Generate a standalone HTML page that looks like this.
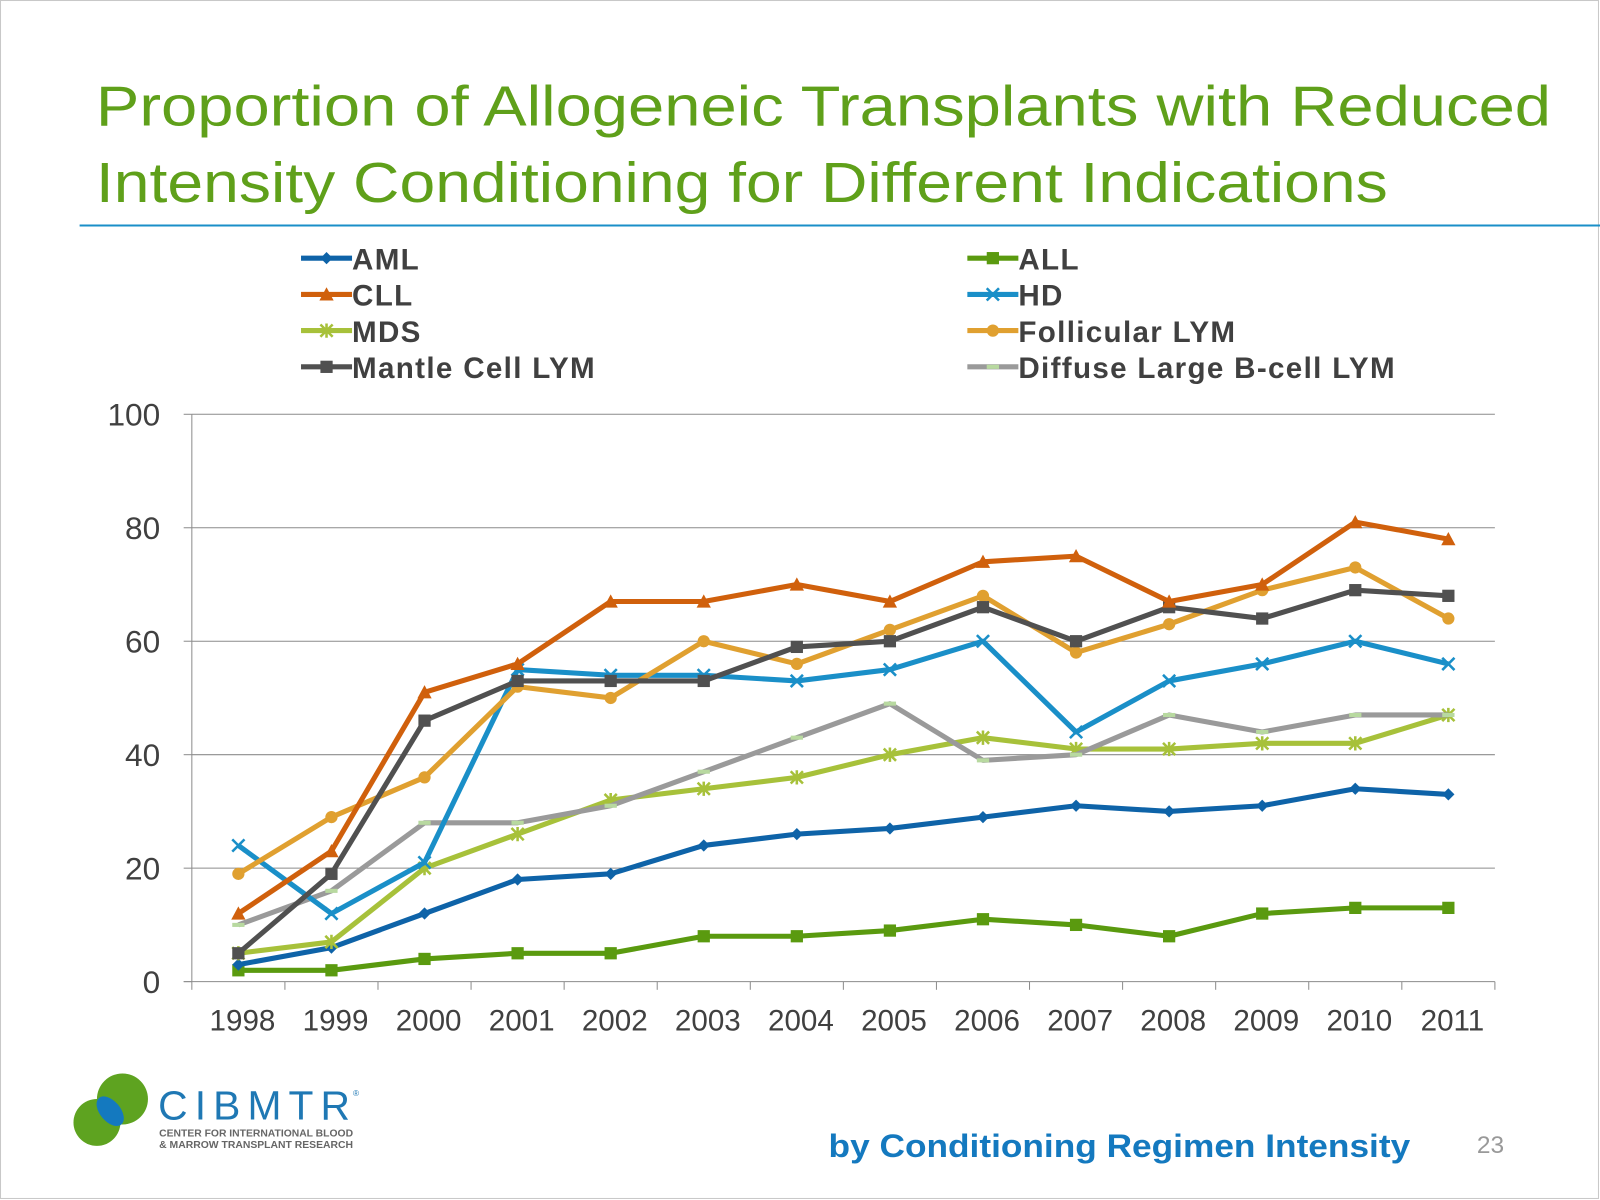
<!DOCTYPE html>
<html><head><meta charset="utf-8"><style>
html,body{margin:0;padding:0;background:#fff;}
svg{display:block;font-family:"Liberation Sans",Arial,sans-serif;}
</style></head><body>
<svg id="chart" width="1600" height="1200" viewBox="0 0 1568 1176">
<rect x="0.5" y="0.5" width="1566" height="1174" fill="#fff" stroke="#c8c8c8"/>
<g fill="#5fa01a" font-size="55">
<text x="94" y="123" textLength="1426" lengthAdjust="spacingAndGlyphs">Proportion of  Allogeneic Transplants with Reduced</text>
<text x="94" y="198" textLength="1266" lengthAdjust="spacingAndGlyphs">Intensity Conditioning for Different Indications</text>
</g>
<line x1="78" y1="221" x2="1568" y2="221" stroke="#1a8fc8" stroke-width="2"/>
<g id="grid"></g>
<g id="axes"></g>
<g id="series"></g>
<g id="legend"></g>
<g>
<circle cx="95" cy="1100" r="23" fill="#5ea320"/>
<circle cx="120" cy="1077" r="25" fill="#5ea320"/>
<ellipse cx="108" cy="1089" rx="10" ry="17" transform="rotate(-40 108 1089)" fill="#1479bf"/>
<text x="155" y="1097" font-size="40" fill="#1f78b4" textLength="188" lengthAdjust="spacing">CIBMTR</text>
<text x="346" y="1074" font-size="8" fill="#1f78b4">®</text>
<text x="156" y="1114" font-size="10" font-weight="bold" fill="#666" textLength="190" lengthAdjust="spacingAndGlyphs">CENTER FOR INTERNATIONAL BLOOD</text>
<text x="156" y="1125" font-size="10" font-weight="bold" fill="#666" textLength="190" lengthAdjust="spacingAndGlyphs">&amp; MARROW TRANSPLANT RESEARCH</text>
</g>
<text x="812" y="1134" font-size="32" font-weight="bold" fill="#1479bf" textLength="570" lengthAdjust="spacingAndGlyphs">by Conditioning  Regimen Intensity</text>
<text x="1474" y="1130" font-size="24" fill="#999" text-anchor="end">23</text>
</svg>
<script>
const years = ["1998","1999","2000","2001","2002","2003","2004","2005","2006","2007","2008","2009","2010","2011"];
const yTicks = [0,20,40,60,80,100];
const seriesNames = ["AML","ALL","CLL","HD","MDS","Follicular LYM","Mantle Cell LYM","Diffuse Large B-cell LYM"];
const amlValues = [3,6,12,18,19,24,26,27,29,31,30,31,34,33];
const allValues = [2,2,4,5,5,8,8,9,11,10,8,12,13,13];
const cllValues = [12,23,51,56,67,67,70,67,74,75,67,70,81,78];
const hdValues = [24,12,21,55,54,54,53,55,60,44,53,56,60,56];
const mdsValues = [5,7,20,26,32,34,36,40,43,41,41,42,42,47];
const follValues = [19,29,36,52,50,60,56,62,68,58,63,69,73,64];
const mantleValues = [5,19,46,53,53,53,59,60,66,60,66,64,69,68];
const dlbclValues = [10,16,28,28,31,37,43,49,39,40,47,44,47,47];

const NS="http://www.w3.org/2000/svg";
function mk(t,a,p){const e=document.createElementNS(NS,t);for(const k in a)e.setAttribute(k,a[k]);p.appendChild(e);return e;}
const X0=188,X1=1465,Y0=962,Y1=406;
const step=(X1-X0)/years.length;
function xS(i){return X0+step*(i+0.5);}
function yS(v){return Y0-(v-0)/(100-0)*(Y0-Y1);}
const grid=document.getElementById('grid'),axes=document.getElementById('axes'),ser=document.getElementById('series'),leg=document.getElementById('legend');
yTicks.forEach(t=>{
  if(t>0){const l=mk('line',{x1:X0,x2:X1,y1:yS(t),y2:yS(t),stroke:'#8c8c8c','stroke-width':1},grid);
  
  }
  const tx=mk('text',{x:157,y:yS(t)+11,'font-size':31,fill:'#404040','text-anchor':'end'},axes);tx.textContent=t;
  
  
});
const va=mk('line',{x1:X0,x2:X0,y1:Y1,y2:Y0,stroke:'#8c8c8c'},axes);


const ha=mk('line',{x1:X0-8,x2:X1,y1:Y0,y2:Y0,stroke:'#8c8c8c'},axes);


for(let i=0;i<=years.length;i++){mk('line',{x1:X0+step*i,x2:X0+step*i,y1:Y0,y2:Y0+8,stroke:'#8c8c8c'},axes);}
yTicks.forEach(t=>{mk('line',{x1:X0-8,x2:X0,y1:yS(t),y2:yS(t),stroke:'#8c8c8c'},axes);});
years.forEach((y,i)=>{const tx=mk('text',{x:xS(i)+4,y:1010,'font-size':29,fill:'#404040','text-anchor':'middle'},axes);tx.textContent=y;
  
  });
const data=[amlValues,allValues,cllValues,hdValues,mdsValues,follValues,mantleValues,dlbclValues];
const colors=['#0e63a8','#5a9a0f','#d0600c','#1a8fc8','#a7c13a','#e0a030','#505050','#9a9a9a'];
const markers=['diamond','square','triangle','x','star','circle','square','dash'];
const order=[1,0,4,7,3,5,6,2];
function marker(g,type,x,y,c){
  if(type==='diamond')mk('path',{d:`M${x},${y-6}L${x+6},${y}L${x},${y+6}L${x-6},${y}Z`,fill:c},g);
  else if(type==='square')mk('rect',{x:x-6,y:y-6,width:12,height:12,fill:c},g);
  else if(type==='triangle')mk('path',{d:`M${x},${y-7}L${x+7},${y+6}L${x-7},${y+6}Z`,fill:c},g);
  else if(type==='circle')mk('circle',{cx:x,cy:y,r:6,fill:c},g);
  else if(type==='x'||type==='star'){mk('path',{d:`M${x-6},${y-6}L${x+6},${y+6}M${x+6},${y-6}L${x-6},${y+6}`+(type==='star'?`M${x},${y-7}L${x},${y+7}`:''),stroke:c,'stroke-width':2.5},g);}
  else mk('rect',{x:x-6,y:y-2,width:12,height:4,fill:'#b8d9a0'},g);
}
order.forEach(k=>{
  const g=mk('g',{},ser);
  
  
  const pts=data[k].map((v,i)=>xS(i)+','+yS(v)).join(' ');
  mk('polyline',{points:pts,fill:'none',stroke:colors[k],'stroke-width':5,'stroke-linejoin':'round'},g);
  data[k].forEach((v,i)=>marker(g,markers[k],xS(i),yS(v),colors[k]));
});
seriesNames.forEach((n,k)=>{
  const col=k%2,row=Math.floor(k/2);
  const x=col?948:295,y=253+row*35.5;
  const g=mk('g',{},leg);
  
  
  mk('line',{x1:x,x2:x+50,y1:y,y2:y,stroke:colors[k],'stroke-width':5},g);
  marker(g,markers[k],x+25,y,colors[k]);
  const t=mk('text',{x:x+50,y:y+11,'font-size':29,'font-weight':'bold',fill:'#404040','letter-spacing':1.3},g);t.textContent=n;
});
</script>
</body></html>
